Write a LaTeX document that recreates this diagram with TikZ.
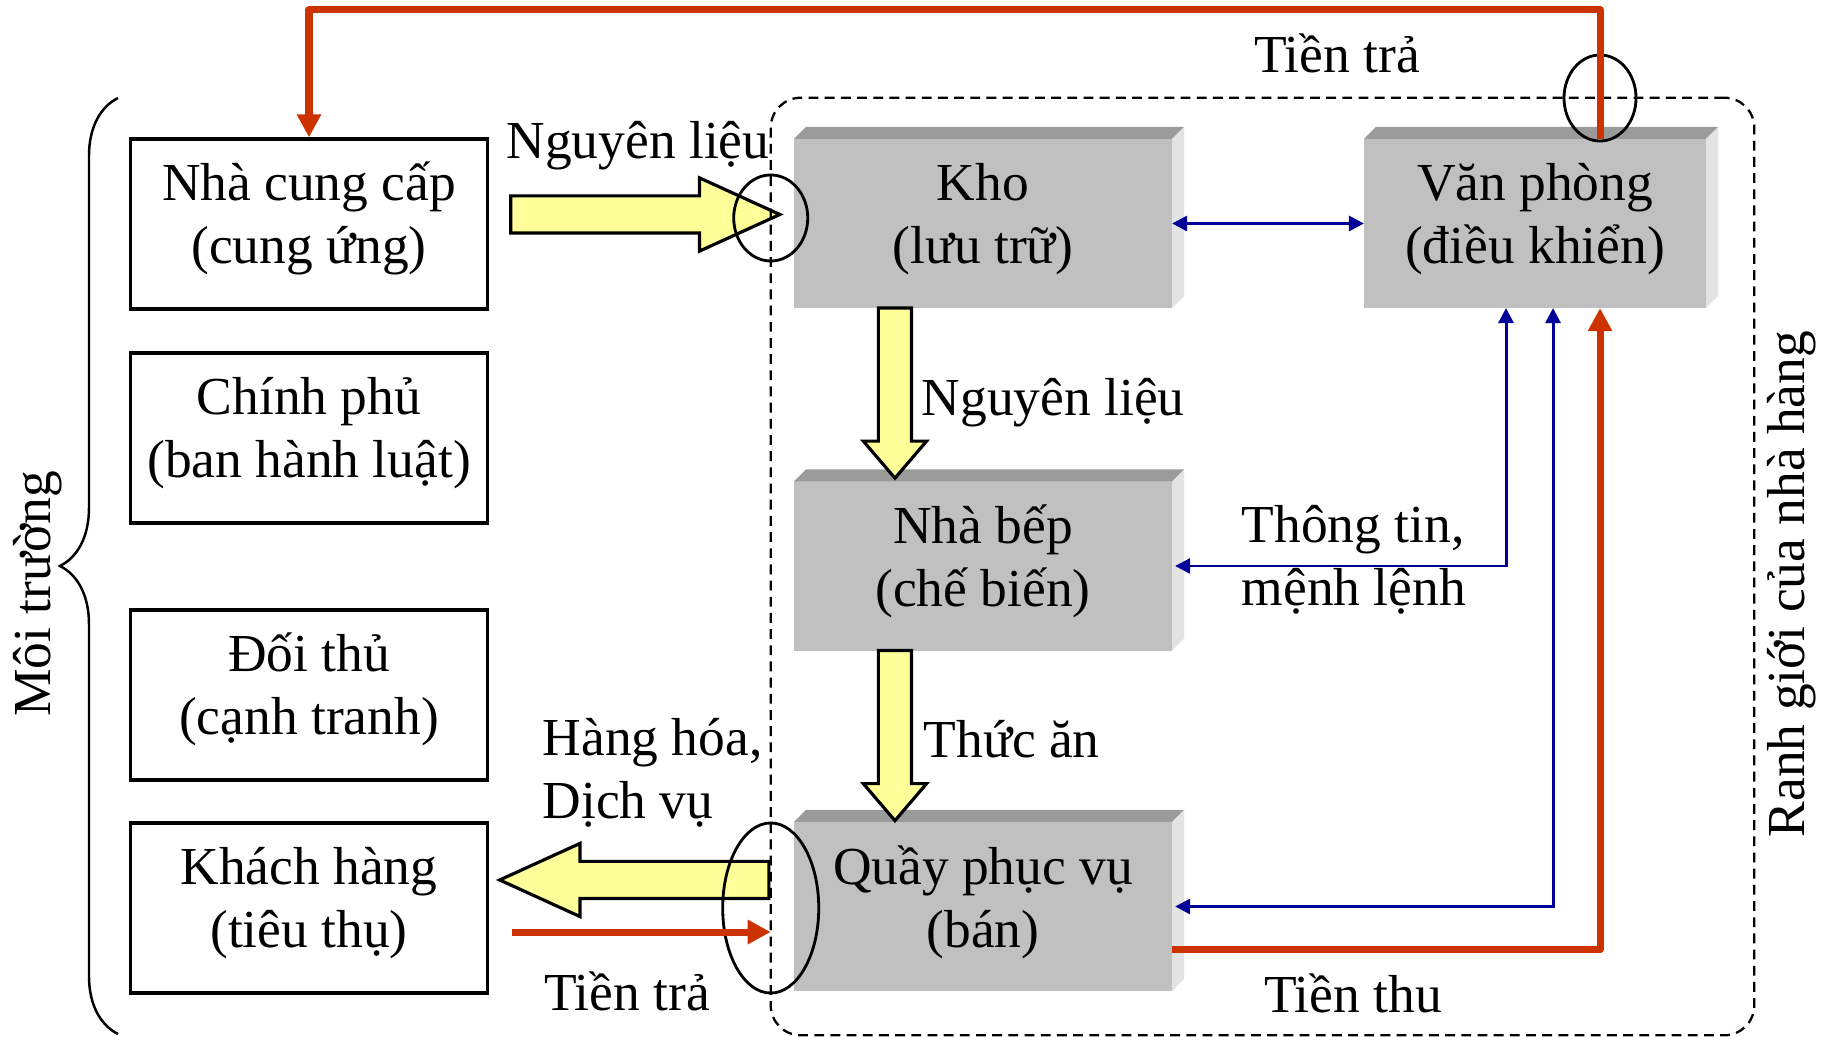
\documentclass[tikz,border=0pt]{standalone}
\usepackage{fontspec}
\setmainfont{Liberation Serif}
\usetikzlibrary{arrows.meta,shapes.arrows,shapes.geometric,decorations.pathreplacing}
\definecolor{moneyred}{RGB}{204,51,0}
\definecolor{infoblue}{RGB}{0,0,153}
\definecolor{fatyellow}{RGB}{255,255,153}
\definecolor{face}{RGB}{192,192,192}
\definecolor{bevtop}{RGB}{155,155,155}
\definecolor{bevside}{RGB}{227,227,227}
\begin{document}
\begin{tikzpicture}[x=0.01cm, y=-0.01cm, >={Triangle[length=0.15cm, width=0.15cm]},
    every node/.style={font=\fontsize{15.2}{17.9}\selectfont},
    env/.style={draw, line width=0.9pt, minimum width=3.56cm, minimum height=1.7cm, align=center, text depth=0.62em},
    block/.style={fill=face, minimum width=3.78cm, minimum height=1.69cm, align=center, text depth=0.58em, outer sep=0pt},
    fat/.style={single arrow, draw, fill=fatyellow, line width=0.9pt, inner xsep=0pt, outer sep=0pt},
    ring/.style={ellipse, draw, line width=0.8pt, inner sep=0pt},
    info/.style={infoblue, line width=0.85pt},
    money/.style={moneyred, line width=2pt, line join=round, >={Triangle[length=0.23cm, width=0.23cm]}},
    lbl/.style={inner sep=0pt, align=left}]
\useasboundingbox (0,0) rectangle (1828,1037);

\node[env] (sup)  at (309,224) {Nhà cung cấp\\(cung ứng)};
\node[env] (gov)  at (309,438) {Chính phủ\\(ban hành luật)};
\node[env] (comp) at (309,695) {Đối thủ\\(cạnh tranh)};
\node[env] (cust) at (309,908) {Khách hàng\\(tiêu thụ)};

\node[block] (kho)  at (983,223.5) {Kho\\(lưu trữ)};
\node[block, minimum width=3.42cm] (vp) at (1535,223.5) {Văn phòng\\(điều khiển)};
\node[block] (bep)  at (983,566) {Nhà bếp\\(chế biến)};
\node[block] (quay) at (983,906.5) {Quầy phục vụ\\(bán)};
\foreach \b in {kho,vp,bep,quay}{
  \fill[bevtop] (\b.north west) -- ++(12,-12) -- ([shift={(12,-12)}]\b.north east) -- (\b.north east) -- cycle;
  \fill[bevside] (\b.north east) -- ++(12,-12) -- ([shift={(12,-12)}]\b.south east) -- (\b.south east) -- cycle;
}

\node[fat, inner ysep=0.17cm, single arrow head extend=0.18cm, single arrow tip angle=49,
  minimum height=2.69cm, anchor=tail] (in) at ([shift={(0.22cm,0.095cm)}]sup.east) {};
\node[fat, inner ysep=0.15cm, single arrow head extend=0.15cm, single arrow tip angle=81,
  minimum height=1.7cm, rotate=-90, anchor=tail] (raw) at ([xshift=-0.88cm]kho.south) {};
\node[fat, inner ysep=0.15cm, single arrow head extend=0.15cm, single arrow tip angle=81,
  minimum height=1.7cm, rotate=-90, anchor=tail] (food) at ([xshift=-0.88cm]bep.south) {};
\node[fat, inner ysep=0.17cm, single arrow head extend=0.18cm, single arrow tip angle=49,
  minimum height=2.69cm, rotate=180, anchor=tip] (out) at ([shift={(0.11cm,0.28cm)}]cust.east) {};

\node[draw, dashed, dash pattern=on 2.8pt off 1.8pt, line width=0.65pt, rounded corners=0.3cm,
  minimum width=9.83cm, minimum height=9.37cm, inner sep=0pt, outer sep=0pt] (bound) at (1262.5,566.5) {};

\node[ring, minimum width=0.74cm, minimum height=0.86cm] (r1) at (bound.west |- 0,218) {};
\node[ring, minimum width=0.72cm, minimum height=0.86cm] (r2) at (1600,98) {};
\node[ring, minimum width=0.96cm, minimum height=1.7cm] (r3) at (bound.west |- 0,908) {};

\draw[info,<->] (kho.east) -- (vp.west);
\draw[info,<->] ([xshift=-0.29cm]vp.south) |- ([xshift=0.03cm]bep.east);
\draw[info,<->] ([xshift=0.18cm]vp.south) |- ([xshift=0.03cm]quay.east);

\draw[money,->] ([xshift=0.65cm]vp.north) -- ++(0,-129) -| (sup.north);
\draw[money,->] ([yshift=-0.43cm]quay.east) -| ([xshift=0.65cm]vp.south);
\coordinate (pay) at ([shift={(0.23cm,-0.24cm)}]cust.east);
\draw[money,->] (pay) -- (pay -| bound.west);

\draw[decorate, decoration={brace, amplitude=0.58cm}, line width=0.7pt] (118,1034) -- (118,98);

\node[lbl, anchor=base] (nl1) at (638,159) {Nguyên liệu};
\node[lbl, anchor=base] (tt1) at (1337,73) {Tiền trả};
\node[lbl, anchor=base west] (nl2) at (921,416) {Nguyên liệu};
\node[lbl, anchor=base west] (ta) at (923,757) {Thức ăn};
\node[lbl, anchor=base west] (cmd) at (1241,605) {Thông tin,\\mệnh lệnh};
\node[lbl, anchor=base west] (goods) at (542,818) {Hàng hóa,\\Dịch vụ};
\node[lbl, anchor=base] (tt2) at (627,1010) {Tiền trả};
\node[lbl, anchor=base] (thu) at (1353,1012) {Tiền thu};
\node[lbl, rotate=90, anchor=base] (envl) at (51,594) {Môi trường};
\node[lbl, rotate=90, anchor=base] (edge) at (1804,584) {Ranh giới của nhà hàng};
\end{tikzpicture}
\end{document}
